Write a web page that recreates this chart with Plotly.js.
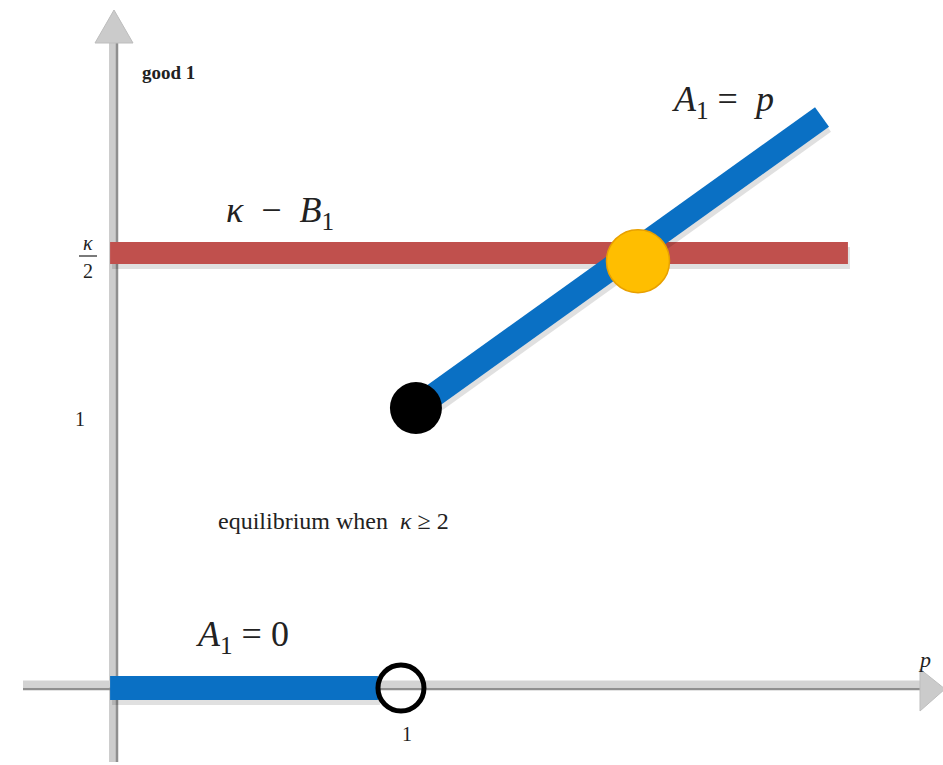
<!DOCTYPE html>
<html>
<head>
<meta charset="utf-8">
<script src="https://cdn.plot.ly/plotly-3.0.1.min.js"></script>
<style>html,body{margin:0;padding:0;background:#fff}#chart{width:943px;height:765px}</style>
</head>
<body>
<div id="chart"></div>
<script>
// ---- data (p on x, good 1 on y) ----
var lowerBranchP = [-0.024, 0.906];
var lowerBranchY = [0, 0];
var upperBranchP = [1.038, 2.448];
var upperBranchY = [1.037, 2.115];
var kappaMinusBP = [-0.024, 2.538];
var kappaMinusBY = [1.611, 1.611];
var openPointP = [0.986];
var openPointY = [0];
var closedPointP = [1.038];
var closedPointY = [1.037];
var equilibriumP = [1.809];
var equilibriumY = [1.581];

var W = 943, H = 765;
var xr = [-117/288, (W-117)/288];
var yr = [(688-H)/270, 688/270];
function px(x){return x/W;}
function py(y){return 1 - y/H;}
// shadow offsets (pixels -> data units)
var dxs = 2/288, dys = 5/270;
function shift(a,d){return a.map(function(v){return v+d;});}

var blue = '#0A70C4', red = '#C0504D', yellow = '#FFBE00';

var traces = [
  {x: shift(kappaMinusBP,dxs), y: shift(kappaMinusBY,-dys), mode:'lines', line:{color:'rgba(0,0,0,0.12)', width:22}, hoverinfo:'skip'},
  {x: kappaMinusBP, y: kappaMinusBY, mode:'lines', line:{color:red, width:22}},
  {x: shift(upperBranchP,dxs), y: shift(upperBranchY,-dys), mode:'lines', line:{color:'rgba(0,0,0,0.12)', width:24}, hoverinfo:'skip'},
  {x: upperBranchP, y: upperBranchY, mode:'lines', line:{color:blue, width:24}},
  {x: shift(lowerBranchP,dxs), y: shift(lowerBranchY,-dys), mode:'lines', line:{color:'rgba(0,0,0,0.12)', width:24}, hoverinfo:'skip'},
  {x: lowerBranchP, y: lowerBranchY, mode:'lines', line:{color:blue, width:24}},
  {x: openPointP, y: openPointY, mode:'markers', marker:{symbol:'circle-open', size:46, color:'#000', line:{color:'#000', width:5}}},
  {x: closedPointP, y: closedPointY, mode:'markers', marker:{symbol:'circle', size:52, color:'#000', line:{width:0}}},
  {x: equilibriumP, y: equilibriumY, mode:'markers', marker:{symbol:'circle', size:63, color:yellow, line:{color:'#E8A000', width:1.5}}}
];

var shapes = [
  // y axis
  {type:'line', xref:'paper', yref:'paper', x0:px(113), x1:px(113), y0:py(762), y1:py(40), line:{color:'#CDCDCD', width:8}, layer:'below'},
  {type:'line', xref:'paper', yref:'paper', x0:px(117), x1:px(117), y0:py(762), y1:py(42), line:{color:'#8F8F8F', width:2.5}, layer:'below'},
  {type:'path', xref:'paper', yref:'paper', path:'M'+px(114)+','+py(10)+' L'+px(95)+','+py(43)+' L'+px(133)+','+py(43)+' Z', fillcolor:'#CBCBCB', line:{color:'#BDBDBD', width:1}, layer:'below'},
  // x axis
  {type:'line', xref:'paper', yref:'paper', x0:px(23), x1:px(922), y0:py(684), y1:py(684), line:{color:'#D3D3D3', width:7}, layer:'below'},
  {type:'line', xref:'paper', yref:'paper', x0:px(23), x1:px(922), y0:py(689), y1:py(689), line:{color:'#8F8F8F', width:2.5}, layer:'below'},
  {type:'path', xref:'paper', yref:'paper', path:'M'+px(945)+','+py(689)+' L'+px(920)+','+py(669)+' L'+px(920)+','+py(711)+' Z', fillcolor:'#CBCBCB', line:{color:'#BDBDBD', width:1}, layer:'below'},
  // fraction bar of kappa/2
  {type:'line', xref:'paper', yref:'paper', x0:px(79), x1:px(97), y0:py(256), y1:py(256), line:{color:'#222', width:1.2}}
];

var serif = 'Liberation Serif';
var sp = '\u00A0';
function ann(x,y,text,size,extra){
  var a = {xref:'paper', yref:'paper', x:px(x), y:py(y), text:text, showarrow:false, xanchor:'left', yanchor:'middle', font:{family:serif, size:size, color:'#222'}};
  for (var k in extra) a[k]=extra[k];
  return a;
}
var annotations = [
  ann(140,72,'<b>good 1</b>',19,{}),
  ann(88,243,'<i>κ</i>',20,{xanchor:'center'}),
  ann(88,271,'2',20,{xanchor:'center'}),
  ann(80,419,'1',20,{xanchor:'center'}),
  ann(216,521,'equilibrium when'+sp+sp+'<i>κ</i> ≥ 2',24,{}),
  ann(194,636,'<i>A</i><sub>1</sub> = 0',36,{}),
  ann(224,212,'<i>κ</i>'+sp+sp+'−'+sp+sp+'<i>B</i><sub>1</sub>',36,{}),
  ann(670,102,'<i>A</i><sub>1</sub>'+sp+'='+sp+sp+'<i>p</i>',36,{}),
  ann(916,659,'<i>p</i>',22,{}),
  ann(407,734,'1',20,{xanchor:'center'})
];

var layout = {
  width: W, height: H,
  margin:{l:0,r:0,t:0,b:0},
  paper_bgcolor:'#fff', plot_bgcolor:'#fff',
  showlegend:false,
  xaxis:{range:xr, visible:false, fixedrange:true},
  yaxis:{range:yr, visible:false, fixedrange:true},
  shapes: shapes,
  annotations: annotations
};
Plotly.newPlot('chart', traces, layout, {displayModeBar:false, staticPlot:true});
</script>
</body>
</html>
